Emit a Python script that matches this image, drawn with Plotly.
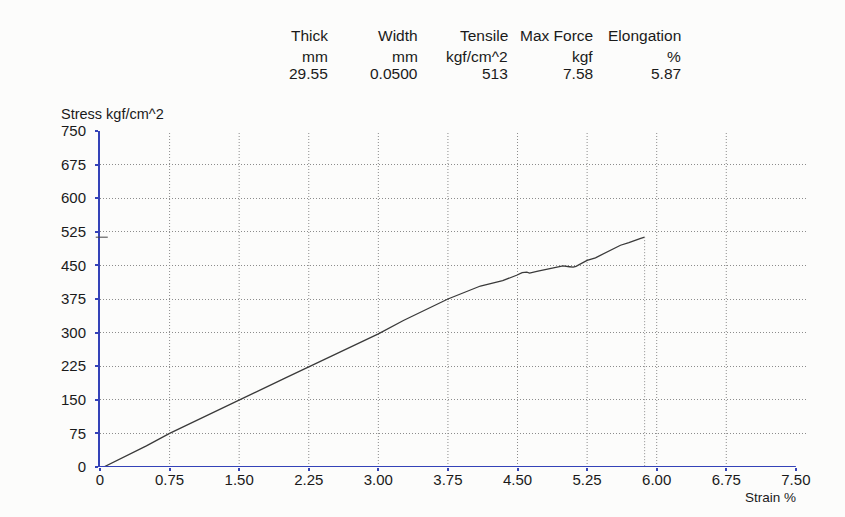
import plotly.graph_objects as go

# Test summary values
header_names = ["Thick", "Width", "Tensile", "Max Force", "Elongation"]
header_units = ["mm", "mm", "kgf/cm^2", "kgf", "%"]
header_values = ["29.55", "0.0500", "513", "7.58", "5.87"]

tensile = 513
elongation = 5.87

# Stress-strain curve
strain = [0.04, 0.20, 0.50, 0.75, 1.00, 1.50, 2.00, 2.50, 3.00, 3.27, 3.75, 4.10,
          4.34, 4.49, 4.55, 4.60, 4.63, 4.72, 4.84, 4.92, 4.99, 5.06, 5.10, 5.13,
          5.20, 5.25, 5.34, 5.40, 5.48, 5.55, 5.61, 5.70, 5.76, 5.82, 5.87]
stress = [0, 16, 47, 75, 100, 150, 199, 248, 297, 327, 375, 404,
          416, 428, 434, 435, 433, 437, 443, 446, 449, 447, 446, 448,
          455, 461, 467, 473, 482, 489, 495, 501, 506, 510, 513]

x_ticks = [0, 0.75, 1.50, 2.25, 3.00, 3.75, 4.50, 5.25, 6.00, 6.75, 7.50]
x_tick_text = ["0", "0.75", "1.50", "2.25", "3.00", "3.75", "4.50", "5.25", "6.00", "6.75", "7.50"]
y_ticks = [0, 75, 150, 225, 300, 375, 450, 525, 600, 675, 750]

AXIS_BLUE = "#3442b8"
GRID = "#8c8c8c"
GRID_DASH = "1px,2px"
FONT = "Liberation Sans, Arial, sans-serif"
X_MAX = 7.62

fig = go.Figure()

# curve
fig.add_trace(go.Scatter(x=strain, y=stress, mode="lines",
                         line=dict(color="#3a3a3a", width=1.3),
                         hoverinfo="skip", showlegend=False))
# break drop line
fig.add_trace(go.Scatter(x=[elongation, elongation], y=[tensile, 0], mode="lines",
                         line=dict(color=GRID, width=1, dash=GRID_DASH),
                         hoverinfo="skip", showlegend=False))

shapes = []
# vertical dotted gridlines (no line at the last tick)
for xv in x_ticks[1:-1]:
    shapes.append(dict(type="line", xref="x", yref="y", x0=xv, x1=xv, y0=0, y1=750,
                       line=dict(color=GRID, width=1, dash=GRID_DASH), layer="below"))
# x-axis line up to the last tick
shapes.append(dict(type="line", xref="x", yref="y", x0=0, x1=x_ticks[-1], y0=0, y1=0,
                   line=dict(color=AXIS_BLUE, width=2)))
# max-stress marker on the stress axis
shapes.append(dict(type="line", xref="paper", yref="y", x0=-0.006, x1=0.011,
                   y0=tensile, y1=tensile, line=dict(color="#444444", width=1)))

annotations = []
col_right = [0.325, 0.452, 0.58, 0.7, 0.825]
row_y = [1.283, 1.223, 1.170]
for i in range(len(header_names)):
    for r, txt in enumerate([header_names[i], header_units[i], header_values[i]]):
        annotations.append(dict(text=txt, xref="paper", yref="paper",
                                x=col_right[i], y=row_y[r], xanchor="right", yanchor="middle",
                                showarrow=False, font=dict(size=15.5, color="#1a1a1a", family=FONT)))

annotations.append(dict(text="Stress kgf/cm^2", xref="paper", yref="paper", x=-0.058, y=1.05,
                        xanchor="left", yanchor="middle", showarrow=False,
                        font=dict(size=14.5, color="#1a1a1a", family=FONT)))
annotations.append(dict(text="Strain %", xref="paper", yref="paper", x=0.987, y=-0.092,
                        xanchor="right", yanchor="middle", showarrow=False,
                        font=dict(size=13.5, color="#1a1a1a", family=FONT)))

fig.update_layout(
    width=845, height=517,
    margin=dict(l=100, r=38, t=131, b=50),
    paper_bgcolor="#fcfcfb", plot_bgcolor="#fcfcfb",
    font=dict(family=FONT, size=15, color="#1a1a1a"),
    shapes=shapes, annotations=annotations,
    xaxis=dict(range=[0, X_MAX], tickvals=x_ticks, ticktext=x_tick_text,
               showgrid=False, zeroline=False, showline=False,
               ticks="outside", ticklen=3, tickcolor=AXIS_BLUE, tickwidth=2,
               ticklabelstandoff=-4, tickfont=dict(size=15)),
    yaxis=dict(range=[0, 750], tickvals=y_ticks, showgrid=True, gridcolor=GRID,
               griddash=GRID_DASH, gridwidth=1, zeroline=False,
               showline=True, linecolor=AXIS_BLUE, linewidth=2,
               ticks="outside", ticklen=3, tickcolor=AXIS_BLUE, tickwidth=2,
               ticklabelstandoff=6, tickfont=dict(size=15)),
)

fig.write_html("out.html")
